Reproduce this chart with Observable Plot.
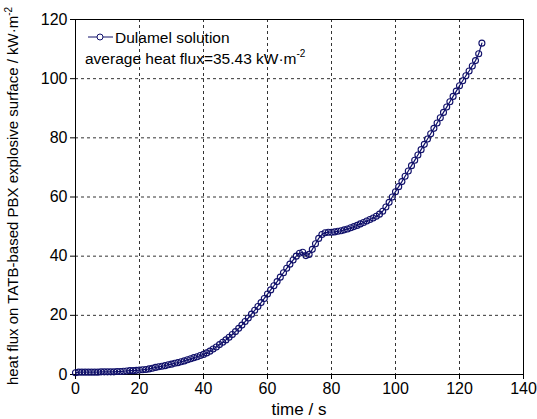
<!DOCTYPE html>
<html><head><meta charset="utf-8">
<script src="https://cdn.jsdelivr.net/npm/d3@7"></script>
<script src="https://cdn.jsdelivr.net/npm/@observablehq/plot@0.6"></script>
<style>body{margin:0;background:#fff} svg{font-family:"Liberation Sans",Arial,sans-serif}</style>
</head><body><div id="chart"></div>
<script>
const times = [0,1,2,3,4,5,6,7,8,9,10,11,12,13,14,15,16,17,18,19,20,21,22,23,24,25,26,27,28,29,30,31,32,33,34,35,36,37,38,39,40,41,42,43,44,45,46,47,48,49,50,51,52,53,54,55,56,57,58,59,60,61,62,63,64,65,66,67,68,69,70,71,72,73,74,75,76,77,78,79,80,81,82,83,84,85,86,87,88,89,90,91,92,93,94,95,96,97,98,99,100,101,102,103,104,105,106,107,108,109,110,111,112,113,114,115,116,117,118,119,120,121,122,123,124,125,126,127];
const flux = [0.6,0.8,0.8,0.8,0.8,0.8,0.8,0.8,0.9,0.9,0.9,0.9,0.9,1.0,1.0,1.1,1.2,1.3,1.3,1.4,
1.5,1.6,1.7,1.9,2.1,2.4,2.6,2.8,3.0,3.3,3.5,3.8,4.0,4.3,4.6,5.0,5.3,5.7,6.0,6.4,
6.8,7.3,7.9,8.6,9.3,10.1,10.9,11.7,12.6,13.5,14.5,15.6,16.7,17.9,19.1,20.4,21.7,23.0,24.3,25.7,
27.2,28.6,30.0,31.4,32.9,34.4,35.9,37.3,38.7,40.0,41.0,41.3,40.2,40.6,42.3,44.2,46.0,47.3,47.9,48.1,
48.1,48.2,48.4,48.6,48.9,49.2,49.6,50.0,50.4,50.9,51.4,51.9,52.4,52.9,53.5,54.2,55.2,56.6,58.2,60.0,
61.8,63.5,65.2,67.0,68.8,70.6,72.4,74.2,76.0,77.8,79.6,81.4,83.2,85.0,86.8,88.6,90.4,92.2,94.0,95.8,
97.6,99.3,101.0,102.6,104.3,106.1,108.4,112.0];
const xTicks = [0,20,40,60,80,100,120,140];
const yTicks = [0,20,40,60,80,100,120];
const seriesName = "Dulamel solution";
const noteText = "average heat flux=35.43 kW·m";
const xLabel = "time / s";
const yLabel = "heat flux on TATB-based PBX explosive surface / kW·m";
const navy = "#10106a";

const data = times.map((t, i) => ({t, q: flux[i]}));
const chart = Plot.plot({
  width: 537, height: 419,
  marginLeft: 75, marginRight: 14, marginTop: 19, marginBottom: 45,
  x: {domain: [0, 140]},
  y: {domain: [0, 120]},
  style: {fontFamily: '"Liberation Sans", Arial, sans-serif', fontSize: "16px", color: "#000", background: "#fff"},
  marks: [
    Plot.gridX(xTicks.slice(1, -1), {stroke: "#333", strokeOpacity: 1, strokeDasharray: "3,3"}),
    Plot.gridY(yTicks.slice(1, -1), {stroke: "#333", strokeOpacity: 1, strokeDasharray: "3,3"}),
    Plot.frame({stroke: "#000"}),
    Plot.axisX(xTicks, {tickSize: 5, tickPadding: 3, label: null}),
    Plot.axisY(yTicks, {tickSize: 5, tickPadding: 3, label: null}),
    Plot.line(data, {x: "t", y: "q", stroke: navy, strokeWidth: 1.2}),
    Plot.dot(data, {x: "t", y: "q", r: 3, stroke: navy, fill: "none", strokeWidth: 1.1})
  ]
});
document.getElementById("chart").appendChild(chart);
const svg = d3.select(chart);
const ff = '"Liberation Sans", Arial, sans-serif';
// x label
svg.append("text").attr("x", 299).attr("y", 415).attr("text-anchor", "middle")
  .attr("font-size", 17).attr("font-family", ff).text(xLabel);
// y label
const yl = svg.append("text").attr("transform", "translate(18,196) rotate(-90)")
  .attr("text-anchor", "middle").attr("font-size", 15).attr("font-family", ff);
yl.append("tspan").text(yLabel);
yl.append("tspan").attr("dy", -6).attr("font-size", 10).text("-2");
// legend
const lg = svg.append("g").attr("text-anchor", "start");
lg.append("line").attr("x1", 88).attr("x2", 113).attr("y1", 37).attr("y2", 37).attr("stroke", navy);
lg.append("circle").attr("cx", 100).attr("cy", 37).attr("r", 3).attr("fill", "#fff").attr("stroke", navy);
lg.append("text").attr("x", 115).attr("y", 43).attr("text-anchor", "start").attr("font-size", 15.5).attr("font-family", ff).text(seriesName);
const nt = lg.append("text").attr("x", 85).attr("y", 64).attr("text-anchor", "start").attr("font-size", 15.5).attr("font-family", ff);
nt.append("tspan").text(noteText);
nt.append("tspan").attr("dy", -7).attr("font-size", 10).text("-2");
</script></body></html>
